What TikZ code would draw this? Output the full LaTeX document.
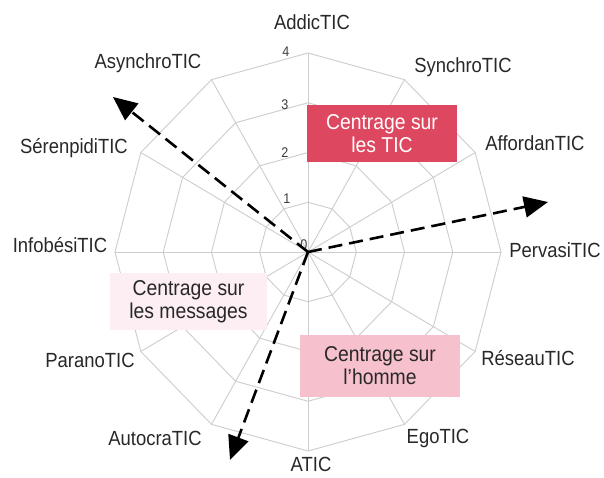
\documentclass[tikz,border=0pt]{standalone}
\usepackage{fontspec}
\setmainfont[FakeStretch=0.9]{Liberation Sans}
\usetikzlibrary{arrows.meta}
\definecolor{ticred}{RGB}{221,72,96}
\definecolor{hompink}{RGB}{246,192,205}
\definecolor{msgpink}{RGB}{252,238,242}
\definecolor{gridgray}{RGB}{205,205,205}
\definecolor{labtext}{RGB}{40,40,40}
\begin{document}
\begin{tikzpicture}[x=1pt,y=1pt,
  axlabel/.style={font=\fontsize{20.5}{23}\selectfont, text=labtext, inner sep=0pt},
  numlabel/.style={font=\fontsize{14}{16}\selectfont, text=labtext!90, inner sep=0pt},
  gridline/.style={draw=gridgray, line width=0.9pt},
  tagbox/.style={align=center, font=\fontsize{21.5}{23}\selectfont, inner sep=0pt},
  dirarrow/.style={line width=2.6pt, dash pattern=on 14pt off 7pt, -{Triangle[length=24pt,width=21pt]}}]
\useasboundingbox (-308,-225) rectangle (296,252);
\fill[white] (-308,-225) rectangle (296,252);
\coordinate (O) at (0,0);
\begin{scope}[xscale=0.97]
  \foreach \L in {1,...,4}
    \draw[gridline] (90:{\L*49.75}) \foreach \k in {1,...,11}{ -- ({90-30*\k}:{\L*49.75}) } -- cycle;
  \foreach \k in {0,...,11}{
    \coordinate (s\k) at ({90-30*\k}:199);
    \draw[gridline] (O) -- (s\k);
  }
\end{scope}
% scale numbers
\node[numlabel] (n4) at (-22,200) {4};
\node[numlabel] (n3) at (-23,147) {3};
\node[numlabel] (n2) at (-23,99) {2};
\node[numlabel] (n1) at (-21,53) {1};
\node[numlabel] (n0) at (-4,7) {0};
% axis labels
\node[axlabel] (l0) at (4,230) {AddicTIC};
\node[axlabel] (l1) at (155,185) {SynchroTIC};
\node[axlabel] (l2) at (227,109) {AffordanTIC};
\node[axlabel] (l3) at (247,2) {PervasiTIC};
\node[axlabel] (l4) at (220,-106) {RéseauTIC};
\node[axlabel] (l5) at (130,-186) {EgoTIC};
\node[axlabel] (l6) at (3,-212) {ATIC};
\node[axlabel] (l7) at (-153,-186) {AutocraTIC};
\node[axlabel] (l8) at (-218,-108) {ParanoTIC};
\node[axlabel] (l9) at (-248,7) {InfobésiTIC};
\node[axlabel] (l10) at (-234,104) {SérenpidiTIC};
\node[axlabel] (l11) at (-160,189) {AsynchroTIC};
% boxes
\node[tagbox, fill=ticred, text=white, minimum width=150pt, minimum height=57pt] (tic) at (74,118.5) {Centrage sur\\les TIC};
\node[tagbox, fill=msgpink, text=labtext, minimum width=157pt, minimum height=57pt] (msg) at (-119.5,-49.5) {Centrage sur\\les messages};
\node[tagbox, fill=hompink, text=labtext, minimum width=160pt, minimum height=62pt] (hom) at (72,-114) {Centrage sur\\l'homme};
% arrows
\coordinate (e1) at (-195,155);
\coordinate (e2) at (240,50);
\coordinate (e3) at (-78,-208);
\draw[dirarrow] (O) -- (e1);
\draw[dirarrow] (O) -- (e2);
\draw[dirarrow] (O) -- (e3);
\end{tikzpicture}
\end{document}
